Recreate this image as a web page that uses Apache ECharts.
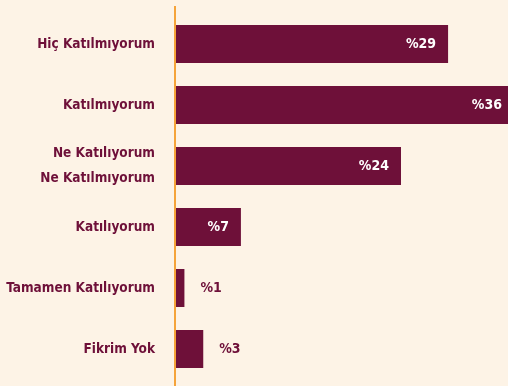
<!DOCTYPE html>
<html>
<head>
<meta charset="utf-8">
<script src="https://cdn.jsdelivr.net/npm/echarts@6/dist/echarts.min.js"></script>
<style>
  html, body { margin: 0; padding: 0; background: #fdf3e6; }
  #chart { width: 508px; height: 386px; }
</style>
</head>
<body>
<div id="chart"></div>
<script>
// Survey answers, top to bottom
const categories = [
  'Hiç Katılmıyorum',
  'Katılmıyorum',
  'Ne Katılıyorum\nNe Katılmıyorum',
  'Katılıyorum',
  'Tamamen Katılıyorum',
  'Fikrim Yok'
];
// Share of respondents, percent
const values = [29, 36, 24, 7, 1, 3];

const MAROON = '#6e1039';
const ORANGE = '#f5a33a';
const FONT = '"DejaVu Sans Condensed", "Liberation Sans Narrow", sans-serif';

const chart = echarts.init(document.getElementById('chart'));

const data = values.map(v => {
  const small = v < 5;
  return {
    value: v,
    label: small
      ? { position: 'right', distance: 16, color: MAROON }
      : { position: 'insideRight', distance: 12, color: '#ffffff' }
  };
});

chart.setOption({
  backgroundColor: '#fdf3e6',
  animation: false,
  grid: {
    left: 175, right: -6, top: 13.5, bottom: 6.5,
    containLabel: false,
    outerBoundsMode: 'none'
  },
  xAxis: {
    type: 'value', min: 0, max: 36,
    show: false
  },
  yAxis: {
    type: 'category',
    inverse: true,
    data: categories,
    axisLine: { show: false },
    axisTick: { show: false },
    axisLabel: {
      margin: 20,
      color: MAROON,
      fontFamily: FONT,
      fontWeight: 'bold',
      fontSize: 13.5,
      lineHeight: 25
    }
  },
  series: [{
    type: 'bar',
    data: data,
    barWidth: 38,
    itemStyle: { color: MAROON },
    label: {
      show: true,
      formatter: p => '%' + p.value,
      fontFamily: FONT,
      fontWeight: 'bold',
      fontSize: 14
    }
  }],
  graphic: [{
    type: 'line',
    z: 10,
    shape: { x1: 175, y1: 6, x2: 175, y2: 386 },
    style: { stroke: ORANGE, lineWidth: 2 }
  }]
});
</script>
</body>
</html>
